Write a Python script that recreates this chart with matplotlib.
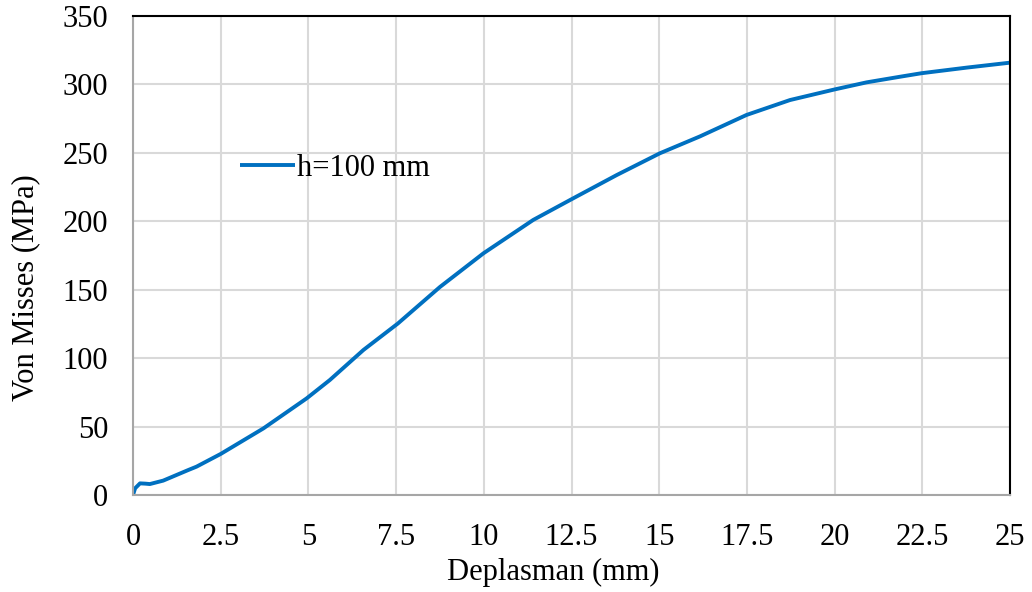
import numpy as np
import matplotlib.pyplot as plt

plt.rcParams['font.family'] = ['Liberation Serif', 'DejaVu Serif']

# Deplasman (mm) / Von Misses (MPa)
depl = [0, 0.06, 0.2, 0.35, 0.48, 0.86, 1.58, 1.81, 2.5, 3.72, 4.95, 5.61, 6.57,
        7.55, 8.75, 9.99, 11.41, 12.55, 13.79, 15.02, 16.16, 17.49, 18.73,
        20.01, 20.91, 21.86, 22.48, 23.77, 25.0]
vm = [0, 4.9, 8.5, 8.3, 8.0, 10.5, 18.3, 20.7, 30, 48.7, 70.6, 84, 106,
      125.3, 152, 176.6, 201, 216.8, 233.8, 249.7, 262, 277.7, 288.6,
      296.4, 301.5, 305.6, 308.2, 312.3, 315.9]

fig = plt.figure(figsize=(10.32, 5.92), dpi=100)
ax = fig.add_axes([133/1032, 1-495/592, 877/1032, 479/592])

ax.plot(depl, vm, color='#0070C0', lw=2.8, label='h=100 mm',
        solid_joinstyle='round', solid_capstyle='butt')

ax.set_xlim(0, 25)
ax.set_ylim(0, 350)
ax.set_xticks(np.arange(0, 25.1, 2.5))
ax.set_xticklabels(['0', '2.5', '5', '7.5', '10', '12.5', '15', '17.5', '20', '22.5', '25'])
ax.set_yticks(np.arange(0, 351, 50))
ax.grid(True, color='#d9d9d9', lw=1.5)
ax.set_axisbelow(True)
ax.tick_params(length=0, labelsize=22)
ax.tick_params(axis='x', pad=20)
ax.tick_params(axis='y', pad=18)

for s in ['left', 'bottom']:
    ax.spines[s].set_color('#a6a6a6')
    ax.spines[s].set_linewidth(1.5)
for s in ['top', 'right']:
    ax.spines[s].set_color('black')
    ax.spines[s].set_linewidth(1.5)

ax.set_xlabel('Deplasman (mm)', fontsize=22)
ax.set_ylabel('Von Misses (MPa)', fontsize=22)
ax.xaxis.set_label_coords(0.479, -0.132)
ax.yaxis.set_label_coords(-0.106, 0.432)

ax.legend(loc='center left', bbox_to_anchor=(0.091, 0.682), frameon=False,
          fontsize=22, handlelength=1.8, handletextpad=0.05)

plt.savefig('out.png', dpi=100)
